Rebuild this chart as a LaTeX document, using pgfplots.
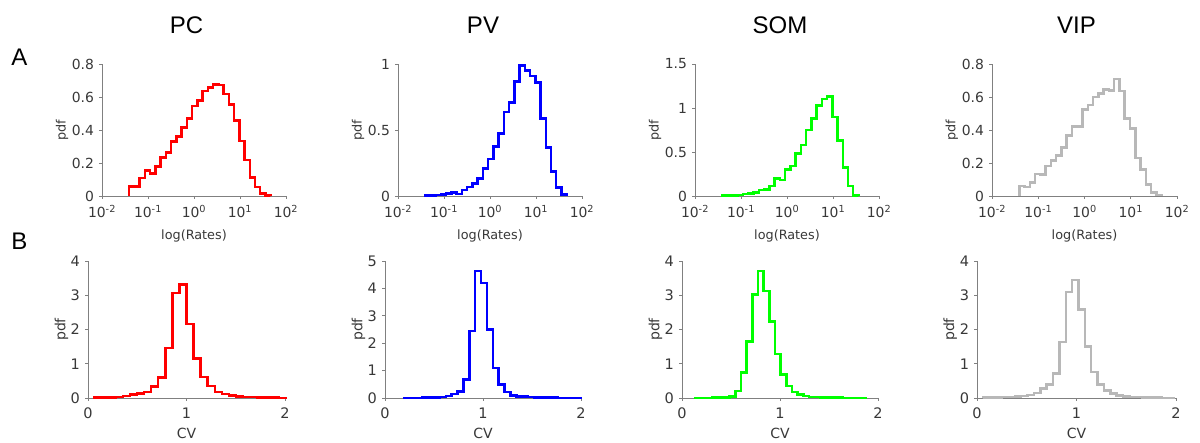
\documentclass[border=0pt]{standalone}
\usepackage{fontspec}
\setmainfont{DejaVu Sans}
\newfontfamily\titlefont{Liberation Sans}
\usepackage{pgfplots}
\pgfplotsset{compat=1.18}

\definecolor{axgray}{rgb}{0.5,0.5,0.5}
\definecolor{txtgray}{rgb}{0.22,0.22,0.22}
\definecolor{vipgray}{rgb}{0.72,0.72,0.72}
\definecolor{pcred}{rgb}{1,0,0}
\definecolor{pvblue}{rgb}{0,0,1}
\definecolor{somgreen}{rgb}{0,1,0}

\pgfplotsset{
  hist/.style={const plot, line width=2.5pt, mark=none},
  panel/.style={
    scale only axis,
    anchor=south west,
    axis lines*=left,
    tick pos=left,
    axis line style={axgray, line width=0.8pt, -},
    x axis line style={-}, y axis line style={-},
    tick style={axgray, line width=0.8pt},
    tick align=outside,
    major tick length=3pt,
    clip=false,
    ymin=0,
    /pgf/number format/assume math mode=true,
    yticklabel style={/pgf/number format/fixed, xshift=-1.5pt},
    xticklabel style={yshift=-3pt},
    ylabel={pdf},
  },
  toprow/.style={panel, width=184pt, height=132pt, xmin=-2, xmax=2, xtick={-2,-1,0,1,2},
    ticklabel style={font=\fontsize{13.9}{15}\selectfont, text=txtgray},
    label style={font=\fontsize{12.8}{14}\selectfont, text=txtgray},
    xticklabels={10\textsuperscript{-2},10\textsuperscript{-1},10\textsuperscript{0},10\textsuperscript{1},10\textsuperscript{2}},
    xlabel={log(Rates)},
    xlabel style={at={(axis description cs:0.5,0)}, anchor=center, yshift=-40pt},
    ylabel style={at={(axis description cs:-0.217,0.5)}, anchor=center},
  },
  botrow/.style={panel, width=197pt, height=137pt, xmin=0, xmax=2, xtick={0,1,2}, ymax=4, ytick={0,1,2,3,4},
    ticklabel style={font=\fontsize{14.5}{16}\selectfont, text=txtgray},
    label style={font=\fontsize{14}{16}\selectfont, text=txtgray},
    xlabel={CV},
    xlabel style={at={(axis description cs:0.5,0)}, anchor=center, yshift=-35pt},
    ylabel style={at={(axis description cs:-0.135,0.5)}, anchor=center},
  },
}

\begin{document}
\begin{tikzpicture}
\useasboundingbox (0,0) rectangle (1200pt,443pt);

% ---------- titles and panel letters ----------
\node[font=\titlefont\fontsize{24}{28}\selectfont] at (186.5pt,418pt) {PC};
\node[font=\titlefont\fontsize{24}{28}\selectfont] at (483pt,418pt) {PV};
\node[font=\titlefont\fontsize{24}{28}\selectfont] at (780pt,418pt) {SOM};
\node[font=\titlefont\fontsize{24}{28}\selectfont] at (1076.5pt,418pt) {VIP};
\node[font=\titlefont\fontsize{24}{28}\selectfont] at (19.5pt,385.5pt) {A};
\node[font=\titlefont\fontsize{24}{28}\selectfont] at (19.5pt,202pt) {B};

% ---------- row A ----------
\begin{axis}[toprow, at={(102pt,247pt)}, ymax=0.8, ytick={0,0.2,0.4,0.6,0.8}]
\addplot[hist, pcred] coordinates {(-1.410,0) (-1.410,0.057) (-1.296,0.057) (-1.182,0.11) (-1.068,0.154) (-0.954,0.137) (-0.840,0.178) (-0.726,0.232) (-0.612,0.263) (-0.498,0.329) (-0.384,0.36) (-0.270,0.414) (-0.156,0.471) (-0.042,0.545) (0.072,0.578) (0.186,0.636) (0.300,0.659) (0.414,0.677) (0.528,0.673) (0.642,0.618) (0.756,0.556) (0.870,0.457) (0.984,0.333) (1.098,0.218) (1.212,0.113) (1.326,0.053) (1.440,0.016) (1.554,0.004) (1.668,0)};
\end{axis}

\begin{axis}[toprow, at={(398pt,247pt)}, ymax=1, ytick={0,0.5,1}]
\addplot[hist, pvblue] coordinates {(-1.410,0) (-1.410,0.003) (-1.296,0.004) (-1.182,0.008) (-1.068,0.01) (-0.954,0.018) (-0.840,0.028) (-0.726,0.015) (-0.612,0.045) (-0.498,0.07) (-0.384,0.096) (-0.270,0.134) (-0.156,0.21) (-0.042,0.28) (0.072,0.374) (0.186,0.475) (0.300,0.636) (0.414,0.71) (0.528,0.866) (0.642,0.987) (0.756,0.95) (0.870,0.909) (0.984,0.861) (1.098,0.588) (1.212,0.369) (1.326,0.184) (1.440,0.066) (1.554,0.01) (1.668,0)};
\end{axis}

\begin{axis}[toprow, at={(695pt,247pt)}, ymax=1.5, ytick={0,0.5,1,1.5}]
\addplot[hist, somgreen] coordinates {(-1.410,0) (-1.410,0.004) (-1.296,0.006) (-1.182,0.008) (-1.068,0.011) (-0.954,0.023) (-0.840,0.03) (-0.726,0.038) (-0.612,0.068) (-0.498,0.076) (-0.384,0.114) (-0.270,0.2) (-0.156,0.18) (-0.042,0.30) (0.072,0.34) (0.186,0.485) (0.300,0.58) (0.414,0.75) (0.528,0.88) (0.642,1.03) (0.756,1.10) (0.870,1.13) (0.984,0.90) (1.098,0.63) (1.212,0.326) (1.326,0.114) (1.440,0.008) (1.554,0)};
\end{axis}

\begin{axis}[toprow, at={(992pt,247pt)}, width=185pt, ymax=0.8, ytick={0,0.2,0.4,0.6,0.8}]
\addplot[hist, vipgray] coordinates {(-1.410,0) (-1.410,0.061) (-1.296,0.053) (-1.182,0.083) (-1.068,0.133) (-0.954,0.129) (-0.840,0.182) (-0.726,0.214) (-0.612,0.246) (-0.498,0.295) (-0.384,0.368) (-0.270,0.42) (-0.156,0.42) (-0.042,0.525) (0.072,0.55) (0.186,0.60) (0.300,0.62) (0.414,0.645) (0.528,0.64) (0.642,0.71) (0.756,0.635) (0.870,0.47) (0.984,0.41) (1.098,0.23) (1.212,0.16) (1.326,0.07) (1.440,0.02) (1.554,0.005) (1.668,0)};
\end{axis}

% ---------- row B ----------
\begin{axis}[botrow, at={(88pt,45pt)}]
\addplot[hist, pcred] coordinates {(0.068,0) (0.068,0.01) (0.140,0.015) (0.211,0.02) (0.283,0.03) (0.355,0.06) (0.427,0.1) (0.498,0.13) (0.570,0.17) (0.642,0.33) (0.713,0.6) (0.785,1.46) (0.857,3.07) (0.928,3.31) (1.000,2.16) (1.072,1.16) (1.144,0.61) (1.215,0.35) (1.287,0.18) (1.359,0.12) (1.430,0.07) (1.502,0.05) (1.574,0.035) (1.645,0.025) (1.717,0.018) (1.789,0.012) (1.861,0.008) (1.932,0.005) (2.004,0)};
\end{axis}

\begin{axis}[botrow, at={(385pt,45pt)}, width=196pt, ymax=5, ytick={0,1,2,3,4,5}]
\addplot[hist, pvblue] coordinates {(0.20,0) (0.20,0.005) (0.26,0.005) (0.32,0.008) (0.38,0.01) (0.44,0.012) (0.50,0.015) (0.56,0.03) (0.62,0.08) (0.68,0.14) (0.74,0.23) (0.80,0.67) (0.86,2.45) (0.92,4.63) (0.98,4.19) (1.04,2.5) (1.10,1.1) (1.16,0.49) (1.22,0.21) (1.28,0.1) (1.34,0.06) (1.40,0.06) (1.46,0.03) (1.52,0.025) (1.58,0.02) (1.64,0.015) (1.70,0.01) (1.76,0.008) (1.82,0.005) (1.88,0.004) (1.94,0.003) (2.00,0)};
\end{axis}

\begin{axis}[botrow, at={(682pt,45pt)}, width=196pt]
\addplot[hist, somgreen] coordinates {(0.140,0) (0.140,0.005) (0.198,0.005) (0.256,0.006) (0.313,0.008) (0.371,0.01) (0.429,0.015) (0.487,0.05) (0.545,0.21) (0.602,0.74) (0.660,1.65) (0.718,3.02) (0.776,3.71) (0.834,3.12) (0.891,2.24) (0.949,1.29) (1.007,0.69) (1.065,0.35) (1.123,0.18) (1.180,0.10) (1.238,0.06) (1.296,0.035) (1.354,0.025) (1.412,0.018) (1.469,0.013) (1.527,0.01) (1.585,0.008) (1.643,0.006) (1.701,0.004) (1.758,0.003) (1.816,0.002) (1.874,0)};
\end{axis}

\begin{axis}[botrow, at={(977pt,45pt)}, width=199pt]
\addplot[hist, vipgray] coordinates {(0.060,0) (0.060,0.02) (0.124,0.02) (0.188,0.02) (0.252,0.025) (0.316,0.03) (0.380,0.04) (0.444,0.06) (0.508,0.09) (0.572,0.14) (0.636,0.27) (0.700,0.4) (0.764,0.71) (0.828,1.63) (0.892,3.09) (0.956,3.44) (1.020,2.59) (1.084,1.5) (1.148,0.76) (1.212,0.4) (1.276,0.22) (1.340,0.13) (1.404,0.08) (1.468,0.05) (1.532,0.035) (1.596,0.025) (1.660,0.018) (1.724,0.012) (1.788,0.008) (1.852,0.005) (1.916,0.003) (1.980,0)};
\end{axis}
\end{tikzpicture}
\end{document}
